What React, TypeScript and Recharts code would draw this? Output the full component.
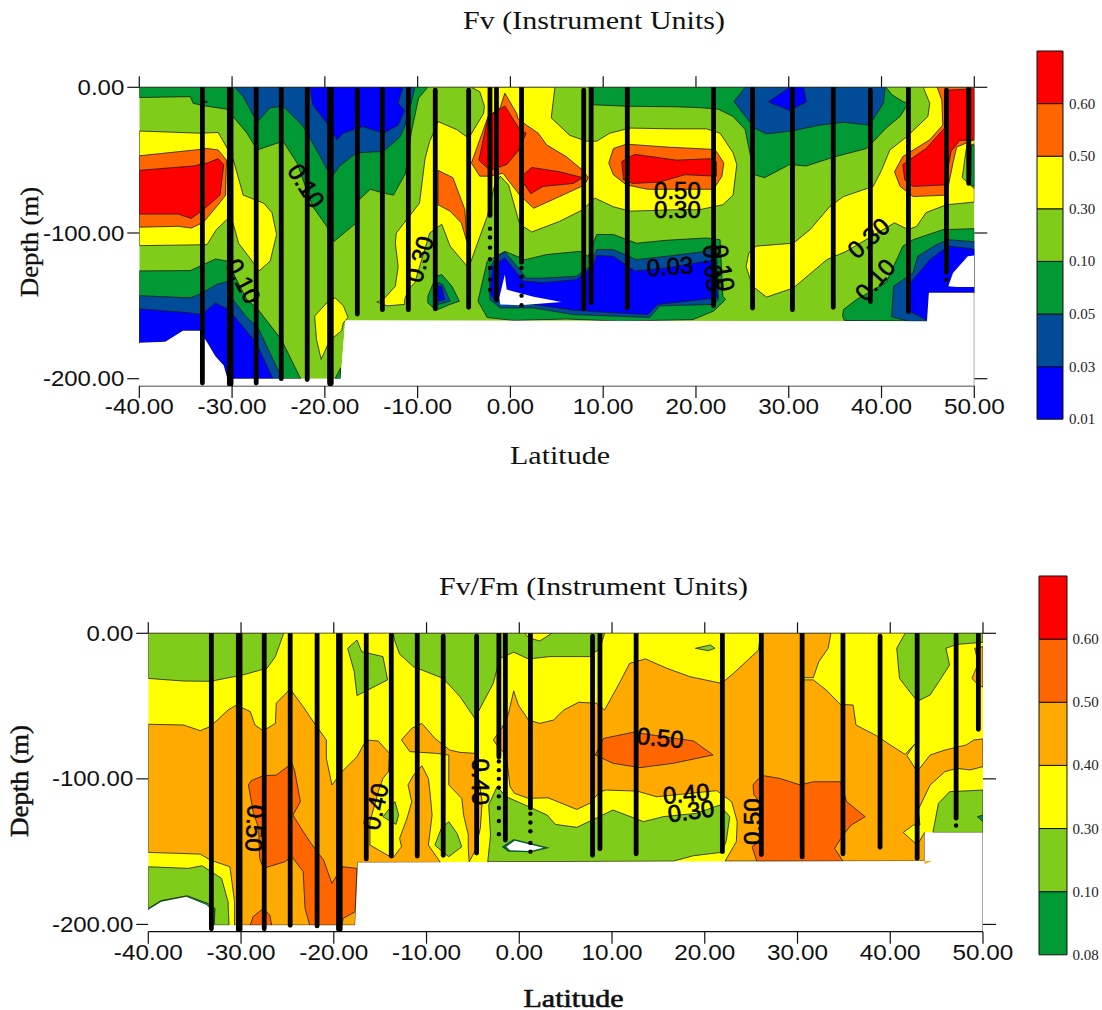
import React from "react";
import { ScatterChart, Scatter, XAxis, YAxis, BarChart, Bar } from "recharts";

type Pt = [number, number];

const BLUE = "#0000FF", NAVY = "#004C99", GREEN = "#009933", LIME = "#80CC1A", YELLOW = "#FFFF00", AMBER = "#FFAA00", DARKOR = "#FF6600", RED = "#FF0000", WHITE = "#FFFFFF";

const LAT_TICKS = [-40, -30, -20, -10, 0, 10, 20, 30, 40, 50];
const DEPTH_TICKS = [-200, -100, 0];

const TOP_BAR_LABELS = ["0.01", "0.03", "0.05", "0.10", "0.30", "0.50", "0.60"];
const TOP_BAR_COLORS = [BLUE, NAVY, GREEN, LIME, YELLOW, DARKOR, RED];
const BOTTOM_BAR_LABELS = ["0.08", "0.10", "0.30", "0.40", "0.50", "0.60"];
const BOTTOM_BAR_COLORS = [GREEN, LIME, YELLOW, AMBER, DARKOR, RED];

// ---- Fv panel contour regions: [latitude, depth in m]
const T_SIL: Pt[] = [[-30.5,200],[-30.9,191],[-31.8,184.5],[-32.7,175],[-33.5,167],[-35.3,167],[-37.2,174.7],[-40,175.3]];
const T_BASE: Pt[] = [[-40,0],[50,0],[50,141],[45.1,141],[44.9,160.5],[-17.8,160],[-18.3,200],...T_SIL];
const T_G1: Pt[] = [[-40,0],[-8.9,0],[-9.9,7.5],[-10.7,31.5],[-11.3,59],[-12.6,74],[-13.7,72.6],[-15.1,70],[-16.6,79],[-16.6,93],[-19,105.7],[-19.8,95.4],[-21.3,82],[-23,52],[-24.5,37],[-27.3,43],[-28.4,31.5],[-29.9,20],[-30.6,15],[-32.7,13],[-34.2,11],[-34.5,6.4],[-40,7]];
const T_B1: Pt[] = [[-29.7,0],[-28.8,6.4],[-27.3,24],[-25.9,14],[-24.5,13],[-22.3,27],[-20.5,47.5],[-19.3,62],[-18.4,54],[-16.6,45],[-13.7,44],[-11.9,34],[-11.4,27],[-10.7,11],[-10.3,0]];
const T_C1: Pt[] = [[-21.6,0],[-21.3,12],[-19.5,27],[-18.7,36],[-18,31.5],[-15.9,27],[-13.7,31.5],[-12.1,26],[-11.4,16],[-12.1,11],[-11.6,0]];
const T_BLIP: Pt[] = [[-33.3,8.5],[-32.6,10],[-33.3,11]];
const T_Y1: Pt[] = [[-40,30],[-33.5,31.5],[-31.5,31],[-30.6,41],[-29.9,49],[-28.8,74],[-26.6,79.5],[-25.7,86],[-25.2,101],[-25.9,119.4],[-27.1,126],[-28.1,117],[-29.3,107],[-29.9,93],[-30.6,91],[-31.7,97.7],[-32.7,108],[-40,108.7]];
const T_O1: Pt[] = [[-40,47],[-34,43],[-32.7,42],[-31.5,43],[-30.6,50],[-30.7,74],[-31.5,80.6],[-33.1,92.7],[-34.4,96.6],[-35.8,95.4],[-40,96]];
const T_R1: Pt[] = [[-40,57],[-34.2,54],[-32.7,52],[-31.5,49],[-30.9,53],[-31.3,74],[-33.1,84],[-34.4,90],[-35.8,87],[-40,87]];
const T_G2: Pt[] = [[-40,126],[-34.5,125.8],[-33.1,121.7],[-31.8,117.8],[-30.4,119.4],[-29.7,129.7],[-28.4,145.7],[-27.2,152.5],[-24.7,173],[-22.6,200],...T_SIL];
const T_B2: Pt[] = [[-40,143],[-34.5,144.5],[-33.3,141.5],[-31.7,135.4],[-30.4,133],[-29.9,145.7],[-28.4,158],[-27.2,165],[-25.6,186.7],[-24.6,200],...T_SIL];
const T_C2: Pt[] = [[-40,152],[-34.5,154.8],[-33.3,156],[-31.8,148],[-30.4,152.5],[-29.9,156],[-27.4,175.3],[-25.6,200],...T_SIL];
const T_Y2: Pt[] = [[-21.1,157],[-19.8,148],[-18.9,144.5],[-18,150],[-17.5,158],[-18,161.6],[-18.2,167],[-19.5,174],[-20.4,186.7],[-20.9,173]];
const T_CORNER: Pt[] = [[-18.9,200],[-18.3,192.5],[-18.3,200]];
const T_Y3: Pt[] = [[-4.2,0],[4.8,0],[4.4,21],[6.4,33],[8.2,37],[9.3,37],[10.7,31.5],[12.9,28],[17.5,28.5],[21.1,28.5],[22.6,31.5],[24,45],[24.4,53],[24,74],[22.9,80.6],[20.4,84],[17.9,84],[12.9,85],[11.1,82],[9.1,76],[7.8,84],[5.3,92],[2.3,99.3],[1,94],[-0.2,67],[-1.1,61],[-1.7,67],[-2.5,88.6],[-3.8,111.4],[-4.5,124],[-6.5,109],[-7.4,94],[-8.7,100],[-10.3,134],[-11,138.8],[-11.4,145.7],[-11.4,149],[-13.3,150],[-14.4,147.3],[-13.7,145.7],[-12.4,136.5],[-12.1,123],[-12.4,107],[-12.3,100],[-11.2,91],[-9.8,79.5],[-9.2,49],[-8.7,37],[-8.3,31.5],[-7.8,23.5],[-5.8,29],[-4.5,35],[-2.9,18],[-2.8,13],[-3.3,3]];
const T_OC: Pt[] = [[-0.6,4],[0.7,18.2],[0.8,21.5],[1.7,25.8],[3,31.5],[3.9,39.5],[6,47.5],[7.8,57],[8.4,62],[8,67],[5.3,75],[2.5,83],[1,74],[-0.8,59],[-2.2,61],[-3.3,61],[-4.2,52],[-3.5,39.5],[-2.4,20],[-1.1,14]];
const T_RC1: Pt[] = [[-0.6,12.8],[1,29],[1.7,31.5],[0.8,44],[-0.4,53],[-2.2,57],[-3.4,50],[-2.4,20]];
const T_RC2: Pt[] = [[2.3,55],[5.3,58],[7.8,62],[6.8,66],[3.5,68],[2.2,73],[1,62]];
const T_OW: Pt[] = [[-7.8,57],[-6.2,62],[-4.9,84],[-4.7,105.7],[-5.3,93],[-6.5,85],[-7.8,80.6]];
const T_OR: Pt[] = [[11.1,42],[12.5,39],[16.8,41],[21.5,42.5],[22.2,44],[23,52],[22.8,61],[21.9,70],[14.8,70],[12.5,67],[11.1,60],[10.6,52]];
const T_RR: Pt[] = [[12,51],[13.4,46],[17.9,50],[21.5,49],[22.2,51],[22.2,61],[18.8,60],[16.1,65],[13.2,66],[12.2,63.5]];
const T_G3: Pt[] = [[-3.5,146.8],[-2.5,119.4],[-0.6,112.6],[1.6,118.3],[3.9,114.8],[7.5,112.6],[8.4,116],[9.3,101],[11.1,101],[13.6,107],[16.8,105],[21.1,103.4],[22.6,104.6],[22.9,143.4],[23.2,145.7],[21.9,153.6],[19.7,159.4],[11.8,160.5],[6,159],[0.3,160],[-2.5,158]];
const T_B3: Pt[] = [[-2.3,125],[-1.5,116],[-0.6,113],[1,125],[1.7,131],[3.5,131],[7.1,129.7],[8.6,123],[9.3,111.4],[11.1,111.4],[13.6,118.3],[16.8,116],[21.1,112.6],[22.2,109],[22.4,145.7],[22,149],[16.1,150],[15,158],[11.1,157],[6.8,156],[2.5,151.4],[-1.1,151.4],[-2.2,145.7]];
const T_C3: Pt[] = [[-1.9,123],[-0.6,117],[1.4,133],[3.5,134],[7.1,132],[8.9,123],[9.3,115.5],[11.1,116],[13.4,126],[16.8,124],[21.1,119.4],[22,118.3],[22.4,144.5],[15.9,149],[14.8,156],[11.1,154.8],[6.8,153],[2.5,149],[-1.5,146.8],[-2.2,142]];
const T_HOLE: Pt[] = [[-0.6,128.5],[-0.4,138.8],[2.5,143.8],[5.5,147.3],[1,149.5],[-1.1,149],[-1.2,144.5]];
const T_BG: Pt[] = [[-8.9,143.4],[-8,129.7],[-7.4,128.5],[-6.3,136.5],[-5.5,146.8],[-6.5,149],[-8,153],[-8.9,148]];
const T_BN: Pt[] = [[-8.2,145.7],[-7.8,134],[-7.3,135.4],[-6.5,146.8],[-7.8,149]];
const T_BC: Pt[] = [[-7.8,136.5],[-7.4,136.5],[-7.1,145.7],[-7.8,146.8]];
const T_G4: Pt[] = [[8.9,0],[40.5,0],[41.1,5],[42.3,9.8],[42.9,11],[42,20],[40.5,28],[38.4,42],[34.8,48],[31.9,54],[30.1,53],[27.4,62],[26.3,60],[26.1,54],[25.3,29],[24,20],[22.4,15],[20.4,14],[17.9,13.4],[12.5,13],[8.9,12]];
const T_B4: Pt[] = [[25.3,0],[24.1,9.8],[26.3,28],[27.6,32],[30.3,30],[33.3,26],[35.9,24],[38.7,26],[40.2,11],[40.4,0]];
const T_C4: Pt[] = [[30.1,0],[27.8,10],[30.1,16],[31.9,10],[31.6,0]];
const T_Y4: Pt[] = [[44.5,0],[45.2,11],[45,20],[42.7,34],[40.9,43],[40,57],[39.1,68],[35.9,75],[34.4,82],[32.3,97.7],[30.5,107],[26.5,109],[25.7,113.7],[25.4,123],[26.1,136.5],[27.6,144],[30.5,137.7],[34.1,118.3],[36.2,112.6],[41.4,93],[42.9,97.7],[43.8,95.4],[44.8,86],[47,80.6],[50,78.8],[50,0]];
const T_O4: Pt[] = [[46,0],[46.5,8.7],[46.6,26],[45.2,36],[42.3,47.5],[41.4,58],[42,68],[43.4,75],[47,74],[47.7,52],[48.1,41],[50,36],[50,0]];
const T_R4: Pt[] = [[47.2,2],[50,1],[50,36],[48.4,36.5],[47.5,44],[46.8,67],[43.4,68],[42.5,63.5],[42.3,53],[44.8,42],[46.8,28],[47.2,8.7]];
const T_LP: Pt[] = [[49.2,39.5],[50,39],[50,69.5],[48.7,62]];
const T_GS: Pt[] = [[49.7,40],[50,40],[50,68],[49.6,67]];
const T_G5: Pt[] = [[35.9,152.5],[37.3,145.7],[40.5,134],[42.3,109],[43.4,104.6],[46.6,97.7],[50,97],[50,141],[45.1,141],[44.9,160.5],[36,160],[35.8,157]];
const T_B5: Pt[] = [[41.1,156],[41.3,136.5],[43.4,127.4],[43.9,116],[45.9,108],[47.2,104.6],[50,106],[50,141],[45.1,141],[44.9,160.5],[42.9,160.5],[41.1,157.5]];
const T_C5: Pt[] = [[42.8,136.5],[45.2,118.3],[47.2,109],[50,111],[50,141],[45.1,141],[44.9,160],[42.7,152.5]];
const T_WB: Pt[] = [[47.2,136.5],[47.7,127.4],[49.3,116],[50,115.5],[50,137],[48.1,137]];
const T_MASK: Pt[] = [[-40,175.3],[-37.2,174.7],[-35.3,167],[-33.5,167],[-32.7,175],[-31.8,184.5],[-30.9,191],[-30.5,200],[-18.3,200],[-17.8,160],[44.9,160.5],[45.1,141],[50,141],[50,204.6],[-40,204.6]];
const T_EDGE: Pt[] = [[50,141],[50,205]];

const TOP_REGIONS: [Pt[], string, boolean][] = [
  [T_BASE, LIME, false], [T_Y3, YELLOW, true], [T_Y4, YELLOW, true], [T_Y1, YELLOW, true], [T_Y2, YELLOW, true],
  [T_OC, DARKOR, true], [T_OW, DARKOR, true], [T_OR, DARKOR, true], [T_O1, DARKOR, true], [T_O4, DARKOR, true],
  [T_RC1, RED, true], [T_RC2, RED, true], [T_RR, RED, true], [T_R1, RED, true], [T_R4, RED, true], [T_LP, LIME, true], [T_GS, GREEN, true],
  [T_G1, GREEN, true], [T_G2, GREEN, true], [T_G3, GREEN, true], [T_G4, GREEN, true], [T_G5, GREEN, true], [T_BG, GREEN, true], [T_CORNER, GREEN, true],
  [T_B1, NAVY, true], [T_B2, NAVY, true], [T_B3, NAVY, true], [T_B4, NAVY, true], [T_B5, NAVY, true], [T_BN, NAVY, true], [T_BLIP, NAVY, true],
  [T_C1, BLUE, true], [T_C2, BLUE, true], [T_C3, BLUE, true], [T_C4, BLUE, true], [T_C5, BLUE, true], [T_BC, BLUE, true],
  [T_HOLE, WHITE, false], [T_WB, WHITE, false], [T_MASK, WHITE, false], [T_EDGE, "none", true],
];

const TOP_STATION_LAT = [-33.2,-30.2,-27.4,-24.7,-21.9,-19.4,-16.5,-13.8,-11,-8.1,-4.5,-2.2,-1.5,1.2,7.9,8.7,12.6,21.9,26.1,30.4,34.8,38.8,42.9,47,49.4];
const TOP_STATION_FROM = [0,0,0,0,0,0,2,1,0,2,2,0,0,0,2,0,0,0,1,0,0,2,0,2,0];
const TOP_STATION_TO = [203,203.4,203,200,200.6,203,155.6,152.6,152.6,152,151,88,146,120,152,148,151.5,150,151.5,152.6,151,147,154,127,66];
const TOP_STATION_WIDE = [-30.2, -19.4];
const TOP_SPARSE: Pt[] = [[-2.2,97],[-2.2,103],[-2.2,110],[-2.2,118],[-2.2,124],[-2.2,132],[-2.2,139],[1.2,124],[1.2,130],[1.2,136],[1.2,143],[1.2,149.5],[47,132]];
const TOP_LABELS: [number, number, string, number][] = [
  [-22,67.6,"0.10",57],[-28.8,133,"0.10",62],[-9.8,118,"0.30",-74],[18,70.8,"0.50",0],[18,84,"0.30",0],[17.2,122.8,"0.03",-4],[21.9,124,"0.05",85],[22.9,124,"0.10",80],[38.6,103.4,"0.30",-42],[39.3,132,"0.10",-48],
];

// ---- Fv/Fm panel contour regions: [latitude, depth in m]
const B_SIL: Pt[] = [[-33,200.5],[-33,191.3],[-33.7,186.7],[-35.9,181],[-38.6,184.4],[-40,190]];
const B_BASE: Pt[] = [[-40,0],[50,0],[50,136.8],[43.7,136.8],[43.7,156.5],[-17.4,157.4],[-17.7,200.5],...B_SIL];
const B_O1: Pt[] = [[-40,62.5],[-36.2,63],[-34.4,66.9],[-33.3,64],[-31.4,52.7],[-30.5,49.3],[-29,53.8],[-28.5,63],[-27.6,67],[-26.3,61.9],[-26.2,48],[-24.7,38.3],[-23.3,50.4],[-22.2,60.8],[-20.8,73.3],[-20.8,85.9],[-20.2,104.2],[-19.1,95],[-17.5,84.8],[-16.5,73.3],[-15.2,74],[-14,82.5],[-14.1,95],[-14.7,99.7],[-15.2,108.8],[-16.1,129.4],[-16.1,145.5],[-13.9,153.5],[-13.6,154.2],[-12.7,146.6],[-12.9,140.9],[-12.1,127],[-11.6,115.7],[-12,104.2],[-11.4,97.4],[-10.5,91],[-9.8,99.7],[-9.6,111],[-9.4,124.9],[-9.8,145.5],[-8.5,157.4],[-17.4,157.4],[-17.7,200.5],[-30.7,200.5],[-30.7,184.4],[-31.2,160.4],[-33.3,155.8],[-34.4,151.7],[-40,150.5]];
const B_O2: Pt[] = [[-12.7,73.3],[-11.6,65.3],[-10.5,61.9],[-9.1,72.2],[-7.5,80.2],[-6.4,81.8],[-4.7,82.5],[-4.5,95],[-4,115.7],[-4.2,134],[-4.8,150],[-5.4,157],[-5.5,147.8],[-5.5,138.6],[-6,124.9],[-6.2,113.4],[-7.6,104.2],[-7.6,83.6],[-8.9,82.5],[-11.8,81.3]];
const B_O3: Pt[] = [[-0.6,39.6],[-0.1,49.3],[1,59.6],[2.2,61.9],[3.7,59.6],[4.8,52.7],[6.4,47.4],[8.3,48],[9.2,52.7],[10.9,33],[11.9,20.6],[13.6,17.6],[15.9,24],[18.4,29.8],[21.8,34.4],[23.1,27.5],[25.8,11.5],[26,0],[33.6,0],[33.3,10.3],[32.3,19.5],[31.7,30.5],[30.6,30.5],[30.6,32],[31.7,32],[33.1,39],[34.6,48.8],[36,49.3],[36.3,63],[38.5,70.3],[40,76.7],[41.6,83.2],[42.6,76.3],[41.8,84],[42.9,95],[44.3,83.6],[45.9,80.2],[48.2,76.7],[49,73.3],[50,72.6],[50,91.6],[48.6,93.9],[47.2,92.8],[45.9,95],[44.3,104.2],[43,121.4],[43.2,131.7],[42.5,131.7],[41.4,136.8],[42.9,145.5],[43.7,136.8],[43.7,156.5],[22.2,156.5],[23.4,143.2],[23.5,129.4],[22.9,115.7],[21.3,108.1],[14.8,112.3],[12.7,108.4],[9.4,107.7],[8.7,108.8],[7.6,116.8],[6.2,121],[3.1,113],[1,113.4],[-0.5,110],[-1,105.4],[-1.4,83.6],[-2.3,77.9],[-2.8,73.3],[-1.9,65.3],[-1.2,56]];
const B_OW: Pt[] = [[49.1,10.3],[50,9.2],[50,36.7],[49.7,36.7],[48.8,31],[49.5,20.6]];
const B_OCHIP: Pt[] = [[43.7,156.5],[44.5,156.5],[43.7,158.5]];
const B_D1: Pt[] = [[-28.9,101.3],[-27.6,97.8],[-26.2,97.4],[-24.5,89.3],[-24.2,95],[-23.6,115.7],[-24.4,124.9],[-23.3,136.3],[-22.2,146.6],[-21.1,155.8],[-20.2,171.8],[-19.1,160.4],[-17.5,161.5],[-17.7,191.3],[-19,195.9],[-19.1,200.5],[-22.6,200.5],[-23.1,189],[-23.3,163.8],[-24.5,153.5],[-25.3,157],[-27.6,161.5],[-28,154.6],[-28.1,134],[-28.7,122.6],[-29.2,104.2]];
const B_D2: Pt[] = [[-29,200.5],[-28.7,194.7],[-27.6,189],[-26.9,193.6],[-26.7,200.5]];
const B_D3: Pt[] = [[8.2,83.6],[9.1,72.2],[12.3,68],[18.8,74],[20.9,83.6],[16.6,89.3],[13,92.3],[10.1,89.3]];
const B_D4: Pt[] = [[25.8,99.7],[26.3,97.8],[28.1,99.7],[30.3,104.2],[31.7,102],[34.6,102],[35.3,115.7],[37.3,126],[35.8,131.7],[34.9,138.6],[34,147.8],[34.9,156.5],[25.6,156.5],[25.1,146.6],[25.9,143.2],[25.9,115.7],[25.3,111],[25.2,104.2]];
const B_L1: Pt[] = [[-40,0],[-25.4,0],[-26.3,16],[-27.2,24],[-29.8,28.6],[-33.3,33],[-36.2,32.8],[-40,31]];
const B_L2: Pt[] = [[-40,160.4],[-35.7,161.5],[-34.2,159.7],[-33.2,163.8],[-32.1,168.4],[-31.4,184.4],[-31.3,200.5],...B_SIL];
const B_GT: Pt[] = [[-40,189],[-38.6,183.6],[-35.8,180.3],[-33.5,185.8],[-32.8,189],[-32.9,200.5],...B_SIL];
const B_L3: Pt[] = [[-18.5,10.3],[-17.5,4.6],[-17,12.6],[-14.7,16],[-14.2,32],[-17.5,42.8],[-17.8,26.3]];
const B_L4: Pt[] = [[-13.6,0],[-13.4,5.7],[-12.9,14.4],[-11.4,23],[-8.2,31],[-6.4,43.5],[-4.8,58.4],[-2.8,34.4],[-2.1,17.2],[-0.6,13],[1,17.6],[3.3,16],[7.6,16],[8.7,10.3],[9.2,0]];
const B_NOTCH: Pt[] = [[0.6,0],[1,3],[2.2,5.3],[3.5,0]];
const B_LB: Pt[] = [[-9.1,145.5],[-8.4,134],[-7.6,129.4],[-6.7,137.5],[-6.2,146.6],[-7.6,153.5],[-8.7,147.8]];
const B_LS: Pt[] = [[-14.7,126],[-13.4,115.7],[-13,124.9],[-13.3,131.3]];
const B_L5: Pt[] = [[-3.4,157],[-3.1,138.6],[-3.3,118],[-2.4,105.4],[-1.4,112.3],[1,119],[3,124.9],[3.9,131.3],[6.2,133.3],[8.3,127],[10.1,121.4],[13.4,129.4],[15.5,126],[19.1,123.7],[21.6,118],[22.7,126],[22.3,143.2],[21.8,150.5],[18.8,152.8],[16.6,156.5]];
const B_HG: Pt[] = [[-1.9,146.6],[-0.6,141.4],[3.3,147.3],[1.3,150.5],[-1.2,150]];
const B_HW: Pt[] = [[-1.4,146.6],[-0.5,142.6],[2.6,147.3],[1.2,149.5],[-1,149]];
const B_L6: Pt[] = [[19,10.3],[20.6,8],[21.1,10.3],[20.4,12]];
const B_L7: Pt[] = [[41.6,0],[40.7,10.3],[41,31],[42.5,43.5],[43,46.5],[44.3,42.4],[46.4,21.8],[46,10.3],[47.2,7.6],[50,6.2],[50,0]];
const B_L8: Pt[] = [[44.6,136.8],[45.2,116.8],[46.4,108.8],[50,107.7],[50,136.8]];
const B_GS: Pt[] = [[49.4,126],[50,124.9],[50,129.4]];
const B_MASK: Pt[] = [[-40,190],[-38.6,184.4],[-35.9,181],[-33.7,186.7],[-33,191.3],[-33,200.5],[-17.7,200.5],[-17.4,157.4],[43.7,156.5],[43.7,136.8],[50,136.8],[50,204.6],[-40,204.6]];
const B_EDGE: Pt[] = [[50,136.8],[50,205]];

const BOTTOM_REGIONS: [Pt[], string, boolean][] = [
  [B_BASE, YELLOW, false], [B_O1, AMBER, true], [B_O2, AMBER, true], [B_O3, AMBER, true], [B_OW, AMBER, true],
  [B_D1, DARKOR, true], [B_D2, DARKOR, true], [B_D3, DARKOR, true], [B_D4, DARKOR, true],
  [B_L1, LIME, true], [B_L2, LIME, true], [B_GT, GREEN, true], [B_L3, LIME, true], [B_L4, LIME, true], [B_NOTCH, YELLOW, true], [B_LB, LIME, true], [B_LS, LIME, true], [B_L5, LIME, true], [B_L6, LIME, true], [B_L7, LIME, true], [B_L8, LIME, true], [B_GS, GREEN, true],
  [B_HG, "#0A5A33", false], [B_HW, WHITE, false], [B_MASK, WHITE, false], [B_OCHIP, AMBER, false], [B_EDGE, "none", true],
];

const BOTTOM_STATION_LAT = [-33.2,-30.2,-27.5,-24.7,-21.8,-19.4,-16.5,-13.8,-11,-8.2,-4.6,-2.2,-1.5,1.2,7.9,8.7,12.6,21.9,26.1,30.5,34.9,38.9,42.9,47.1,49.5];
const BOTTOM_STATION_FROM = [0,0,0,0,0,0,0,1,0,2,2,0,0,0,2,0,0,0,0,0,0,2,0,1,0];
const BOTTOM_STATION_TO = [203,203.4,203,200.6,201,203,155,153,153,152.5,151,85,142,120,152.5,148,151.5,150,152,153.6,151.5,147,154.5,127,66];
const BOTTOM_STATION_WIDE = [-30.2, -19.4];
const BOTTOM_SPARSE: Pt[] = [[-2.2,88],[-2.2,94],[-2.2,100],[-2.2,106],[-2.2,112],[-2.2,120],[-2.2,129],[-2.2,138],[1.2,124],[1.2,130],[1.2,136],[1.2,144],[1.2,150],[47.1,132]];
const BOTTOM_LABELS: [number, number, string, number][] = [
  [-28.5,134,"0.50",93],[-15.5,119,"0.40",-78],[-4.2,102,"0.40",90],[15.2,71.7,"0.50",5],[18,110,"0.40",-5],[18.5,122,"0.30",-8],[25.2,129.4,"0.50",-90],
];

const AXIS_FONT = "'Liberation Sans', Arial, sans-serif";
const SERIF = "'Liberation Serif', 'Times New Roman', serif";

const emWidth = (s: string) => s.split("").reduce((w, c) => w + (c === "." ? 0.278 : c === "-" ? 0.333 : 0.556), 0);

const toRows = (pts: Pt[]) => pts.map(([lat, d]) => ({ lat, depth: -d }));
const closed = (pts: Pt[]) => [...pts, pts[0]];

const NoMark = () => <g />;

function regions(list: [Pt[], string, boolean][], prefix: string) {
  return list.map(([pts, color, outlined], i) => (
    <Scatter
      key={prefix + i}
      data={toRows(color === "none" ? pts : closed(pts))}
      isAnimationActive={false}
      shape={NoMark}
      line={{ fill: color, stroke: outlined ? "#1c1c1c" : "none", strokeWidth: 0.8 } as any}
      lineType="joint"
    />
  ));
}

function stations(lat: number[], from: number[], to: number[], wide: number[], prefix: string) {
  return lat.map((la, i) => (
    <Scatter
      key={prefix + i}
      data={[{ lat: la, depth: -from[i] }, { lat: la, depth: -to[i] }]}
      isAnimationActive={false}
      shape={NoMark}
      line={{ stroke: "#000", strokeWidth: wide.includes(la) ? 6.5 : 4.8, strokeLinecap: "round", fill: "none" } as any}
      lineType="joint"
    />
  ));
}

function sparse(pts: Pt[], prefix: string) {
  return (
    <Scatter
      key={prefix}
      data={toRows(pts)}
      isAnimationActive={false}
      shape={(p: any) => <circle cx={p.cx} cy={p.cy} r={2.2} fill="#000" />}
    />
  );
}

function labels(list: [number, number, string, number][], prefix: string) {
  return list.map(([lat, d, text, angle], i) => (
    <Scatter
      key={prefix + i}
      data={[{ lat, depth: -d }]}
      isAnimationActive={false}
      shape={(p: any) => (
        <text x={p.cx} y={p.cy} transform={`rotate(${angle} ${p.cx} ${p.cy})`} textAnchor="middle" dominantBaseline="central" fontFamily={AXIS_FONT} fontSize={24} fill="#000" stroke="#000" strokeWidth={0.6}>
          {text}
        </text>
      )}
    />
  ));
}

const XTick = (p: any) => {
  const s = Number(p.payload.value).toFixed(2);
  return (
    <text x={p.x} y={p.y} dy={16} textAnchor="middle" fontFamily={AXIS_FONT} fontSize={22} fill="#111" textLength={emWidth(s) * 24.3} lengthAdjust="spacingAndGlyphs">
      {s}
    </text>
  );
};
const YTick = (p: any) => {
  const s = Number(p.payload.value).toFixed(2);
  return (
    <text x={p.x} y={p.y} dy={7.5} textAnchor="end" fontFamily={AXIS_FONT} fontSize={22} fill="#111" textLength={emWidth(s) * 24} lengthAdjust="spacingAndGlyphs">
      {s}
    </text>
  );
};

function axisSet() {
  const line = { stroke: "#111", strokeWidth: 1.2 };
  return [
    <XAxis key="xb" xAxisId={0} type="number" dataKey="lat" domain={[-40, 50]} ticks={LAT_TICKS} orientation="bottom" height={50} tickSize={12} tickMargin={0} axisLine={line} tickLine={line} tick={XTick} interval={0} allowDataOverflow />,
    <XAxis key="xt" xAxisId="top" type="number" dataKey="lat" domain={[-40, 50]} ticks={LAT_TICKS} orientation="top" height={20} tickSize={11} axisLine={line} tickLine={line} tick={NoMark} interval={0} allowDataOverflow />,
    <YAxis key="yl" yAxisId={0} type="number" dataKey="depth" domain={[-205, 0]} ticks={DEPTH_TICKS} orientation="left" width={100} tickSize={12} tickMargin={3} axisLine={false} tickLine={line} tick={YTick} interval={0} allowDataOverflow />,
    <YAxis key="yr" yAxisId="right" type="number" dataKey="depth" domain={[-205, 0]} ticks={DEPTH_TICKS} orientation="right" width={40} tickSize={13} axisLine={false} tickLine={line} tick={NoMark} interval={0} allowDataOverflow />,
    <Scatter key="anchor" xAxisId="top" yAxisId="right" data={[{ lat: 0, depth: 0 }]} isAnimationActive={false} shape={NoMark} />,
  ];
}

function ColorBar(props: { labels: string[]; colors: string[]; left: number; top: number; width: number; height: number }) {
  const { labels: names, colors, left, top, width, height } = props;
  const row: Record<string, string | number> = { name: "scale" };
  colors.forEach((_, i) => { row["s" + i] = 1; });
  const ticks = names.map((_, i) => i);
  return (
    <div style={{ position: "absolute", left: left - 10, top: top - 10 }}>
      <BarChart width={width + 10 + 42} height={height + 30} data={[row]} margin={{ left: 10, top: 10, right: 0, bottom: 20 }} barCategoryGap={0}>
        <XAxis dataKey="name" hide />
        <YAxis
          type="number"
          domain={[0, colors.length]}
          ticks={ticks}
          orientation="right"
          width={42}
          tickLine={false}
          axisLine={false}
          interval={0}
          tick={(p: any) => (
            <text x={p.x} y={p.y} dx={-2} dy={5} fontFamily={SERIF} fontSize={15} fill="#222">
              {names[p.payload.value]}
            </text>
          )}
        />
        {colors.map((c, i) => (
          <Bar key={i} dataKey={"s" + i} stackId="scale" fill={c} stroke="#111" strokeWidth={1} isAnimationActive={false} />
        ))}
      </BarChart>
    </div>
  );
}

const Txt = (p: { x: number; y: number; len: number; size: number; rotate?: boolean; heavy?: number; children: string }) => (
  <text
    x={p.x}
    y={p.y}
    textAnchor="middle"
    dominantBaseline="central"
    transform={p.rotate ? `rotate(-90 ${p.x} ${p.y})` : undefined}
    fontFamily={SERIF}
    fontSize={p.size}
    fill="#111"
    stroke={p.heavy ? "#111" : "none"}
    strokeWidth={p.heavy || 0}
    textLength={p.len}
    lengthAdjust="spacingAndGlyphs"
  >
    {p.children}
  </text>
);

export default function App() {
  return (
    <div style={{ position: "absolute", left: 0, top: 0, width: 1102, height: 1010, background: "#fff" }}>
      <div style={{ position: "absolute", left: 0, top: 0 }}>
        <ScatterChart width={1102} height={505} margin={{ left: 39.3, right: 87.7, top: 67.3, bottom: 69 }}>
          {axisSet()}
          {regions(TOP_REGIONS, "tr")}
          {stations(TOP_STATION_LAT, TOP_STATION_FROM, TOP_STATION_TO, TOP_STATION_WIDE, "ts")}
          {sparse(TOP_SPARSE, "tsp")}
          {labels(TOP_LABELS, "tl")}
          <Txt x={594} y={20} len={262} size={25}>Fv (Instrument Units)</Txt>
          <Txt x={29} y={242} len={110} size={25} rotate heavy={0.3}>Depth (m)</Txt>
          <Txt x={560} y={455} len={100} size={26}>Latitude</Txt>
        </ScatterChart>
      </div>
      <div style={{ position: "absolute", left: 0, top: 505 }}>
        <ScatterChart width={1102} height={505} margin={{ left: 48.3, right: 79, top: 108.3, bottom: 28.3 }}>
          {axisSet()}
          {regions(BOTTOM_REGIONS, "br")}
          {stations(BOTTOM_STATION_LAT, BOTTOM_STATION_FROM, BOTTOM_STATION_TO, BOTTOM_STATION_WIDE, "bs")}
          {sparse(BOTTOM_SPARSE, "bsp")}
          {labels(BOTTOM_LABELS, "bl")}
          <Txt x={593.5} y={81} len={309} size={25}>Fv/Fm (Instrument Units)</Txt>
          <Txt x={19} y={276} len={112} size={25} rotate heavy={0.5}>Depth (m)</Txt>
          <Txt x={573.5} y={493} len={100} size={25} heavy={0.6}>Latitude</Txt>
        </ScatterChart>
      </div>
      <ColorBar labels={TOP_BAR_LABELS} colors={TOP_BAR_COLORS} left={1037} top={50.5} width={26} height={368.2} />
      <ColorBar labels={BOTTOM_BAR_LABELS} colors={BOTTOM_BAR_COLORS} left={1038.5} top={575.5} width={27.5} height={378.8} />
    </div>
  );
}
